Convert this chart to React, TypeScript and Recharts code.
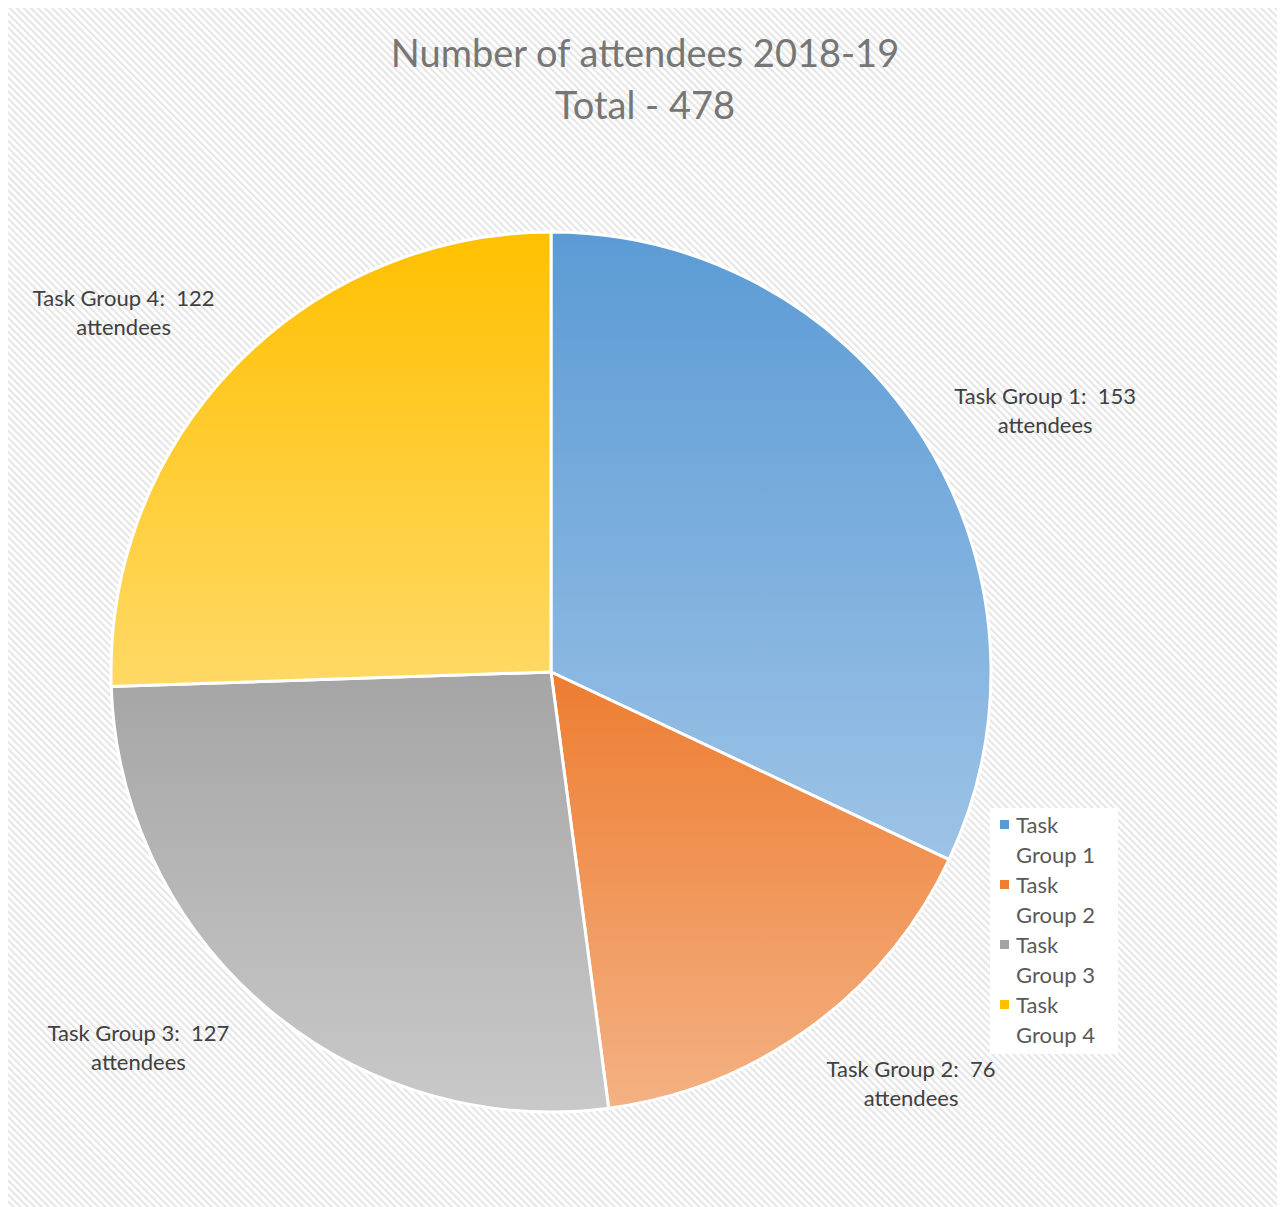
import { PieChart, Pie, Cell, Legend } from "recharts";

const groups = ["Task Group 1", "Task Group 2", "Task Group 3", "Task Group 4"];
const attendees = [153, 76, 127, 122];
const titleLines = ["Number of attendees 2018-19", "Total - 478"];

const colorTop = ["#5b9bd5", "#ed7d31", "#a5a5a5", "#ffc000"];
const colorBottom = ["#9dc3e6", "#f4b183", "#c9c9c9", "#ffd966"];

const data = groups.map((name, i) => ({ name, value: attendees[i] }));

// excel "best fit" places labels a bit off the mid angle
const labelNudge = [
  [26, 35],
  [33, -37],
  [-54, -48],
  [-29, 26],
];

const FONT = "Lato, 'Open Sans', sans-serif";
const RAD = Math.PI / 180;

const renderLabel = (props: any) => {
  const { cx, cy, midAngle, outerRadius, index, name, value } = props;
  const r = outerRadius * 1.26;
  const x = cx + r * Math.cos(-midAngle * RAD) + labelNudge[index][0];
  const y = cy + r * Math.sin(-midAngle * RAD) + labelNudge[index][1];
  return (
    <text x={x} y={y} textAnchor="middle" fill="#404040" fontSize={22} fontFamily={FONT}>
      <tspan x={x} dy={-6}>{`${name}:\u00a0\u00a0${value}`}</tspan>
      <tspan x={x} dy={29}>attendees</tspan>
    </text>
  );
};

const renderLegend = () => (
  <div
    style={{
      background: "#fff",
      width: 118,
      padding: "2px 0 4px 10px",
      fontFamily: FONT,
      fontSize: 22,
      color: "#595959",
      lineHeight: "30px",
    }}
  >
    {groups.map((g, i) => (
      <div key={g} style={{ display: "flex", alignItems: "flex-start" }}>
        <span
          style={{
            width: 9,
            height: 9,
            marginTop: 10,
            marginRight: 7,
            background: colorTop[i],
            flex: "none",
          }}
        />
        <span>
          Task
          <br />
          {g.replace("Task ", "")}
        </span>
      </div>
    ))}
  </div>
);

export default function App() {
  return (
    <div style={{ position: "relative", width: 1285, height: 1207, margin: "-8px 0 0 -8px", background: "#fff" }}>
      <svg width={1285} height={1207} style={{ position: "absolute", left: 0, top: 0 }}>
        <defs>
          <pattern id="stripes" width={5} height={5} patternUnits="userSpaceOnUse" patternTransform="rotate(-45)">
            <rect width={5} height={5} fill="#ffffff" />
            <rect width={2.2} height={5} fill="#e6e6e6" />
          </pattern>
        </defs>
        <rect x={7} y={5} width={1275} height={1220} fill="url(#stripes)" stroke="#d9d9d9" strokeWidth={2} />
      </svg>
      <div
        style={{
          position: "absolute",
          left: 0,
          top: 26,
          width: 1290,
          textAlign: "center",
          fontFamily: FONT,
          fontSize: 38,
          lineHeight: "52px",
          color: "#767676",
        }}
      >
        {titleLines.map((t) => (
          <div key={t}>{t}</div>
        ))}
      </div>
      <div style={{ position: "absolute", left: 0, top: 0 }}>
        <PieChart width={1285} height={1207} margin={{ top: 0, right: 0, bottom: 0, left: 0 }}>
          <defs>
            {groups.map((g, i) => (
              <linearGradient key={g} id={`grad${i}`} x1="0" y1="0" x2="0" y2="1">
                <stop offset="0%" stopColor={colorTop[i]} />
                <stop offset="100%" stopColor={colorBottom[i]} />
              </linearGradient>
            ))}
          </defs>
          <Pie
            data={data}
            dataKey="value"
            nameKey="name"
            cx={551}
            cy={672}
            outerRadius={440}
            startAngle={90}
            endAngle={-270}
            stroke="#ffffff"
            strokeWidth={3}
            label={renderLabel}
            labelLine={false}
            isAnimationActive={false}
          >
            {data.map((d, i) => (
              <Cell key={d.name} fill={`url(#grad${i})`} />
            ))}
          </Pie>
          <Legend
            content={renderLegend}
            layout="vertical"
            wrapperStyle={{ position: "absolute", left: 990, top: 808, width: 128 }}
          />
        </PieChart>
      </div>
    </div>
  );
}
